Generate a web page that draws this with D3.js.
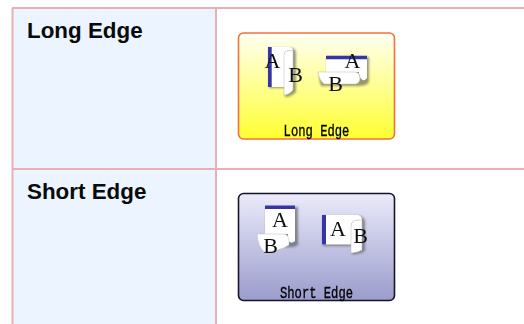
<!DOCTYPE html>
<html><head><meta charset="utf-8">
<script src="https://cdn.jsdelivr.net/npm/d3@7/dist/d3.min.js"></script>
<style>html,body{margin:0;padding:0;background:#fff}svg{display:block}</style></head>
<body><div id="c"></div>
<script>
const rowLabels = ["Long Edge", "Short Edge"];
const buttonLabels = ["Long Edge", "Short Edge"];
const gradientTops = ["#fffff4", "#ebebfa"];
const gradientBottoms = ["#ffff30", "#9a9ccc"];
const buttonBorders = ["#f2703c", "#15152a"];

const W = 524, H = 324;
const svg = d3.select("#c").append("svg").attr("width", W).attr("height", H);
const defs = svg.append("defs");
const blur = defs.append("filter").attr("id", "soft");
blur.append("feGaussianBlur").attr("stdDeviation", 0.4);
const shadow = defs.append("filter").attr("id", "sh");
shadow.append("feGaussianBlur").attr("stdDeviation", 0.8);
rowLabels.forEach((_, i) => {
  const g = defs.append("linearGradient").attr("id", "g" + i).attr("x1", 0).attr("x2", 0).attr("y1", 0).attr("y2", 1);
  g.append("stop").attr("offset", "0%").attr("stop-color", gradientTops[i]);
  g.append("stop").attr("offset", "100%").attr("stop-color", gradientBottoms[i]);
});

const rowY = d3.scaleOrdinal().domain(rowLabels).range([8, 169]);
const lineColor = "#e8b0b0";
svg.append("rect").attr("x", 12).attr("y", 8).attr("width", 204).attr("height", H - 8).attr("fill", "#ebf4ff");
[[12.5, 8, 12.5, H], [216, 8, 216, H], [12, 8, W, 8], [12, 169, W, 169]].forEach(d => {
  svg.append("line").attr("x1", d[0]).attr("y1", d[1]).attr("x2", d[2]).attr("y2", d[3])
    .attr("stroke", lineColor).attr("stroke-width", 2);
});
svg.selectAll("text.row").data(rowLabels).join("text").attr("class", "row")
  .attr("x", 27).attr("y", d => rowY(d) + 30)
  .attr("font-family", "'Liberation Sans',Arial,sans-serif").attr("font-weight", "bold")
  .attr("font-size", 22.4).attr("fill", "#0a0a0a").text(d => d);

const btnY = [33, 193.5], btnH = [106, 107];
rowLabels.forEach((_, i) => {
  const g = svg.append("g").attr("filter", "url(#soft)");
  g.append("rect").attr("x", 238.5).attr("y", btnY[i]).attr("width", 156).attr("height", btnH[i]).attr("rx", 5)
    .attr("fill", `url(#g${i})`).attr("stroke", buttonBorders[i]).attr("stroke-width", 1.6);
  g.append("text").attr("transform", `translate(316.5,${btnY[i] + btnH[i] - 3}) scale(1,1.3)`).attr("text-anchor", "middle")
    .attr("font-family", "'Liberation Mono','DejaVu Sans Mono',monospace").attr("font-size", 12.2)
    .attr("fill", "#000").attr("stroke", "#000").attr("stroke-width", 0.25).text(buttonLabels[i]);
});

const pages = [
  {s:"M269 48H290Q296 48 296 53V92Q291 97 285 97V88H269Z", p:"M268 47H288Q293 47 293 51Q284 49 284 55V87H268Z", f:"M284 55Q284 49 293 51V90Q289 95 284 95Z", b:"M268 47h3.7v40h-3.7Z", A:[272.5,67.5], B:[295.5,81.5]},
  {s:"M327 57H369V82Q367 86 358 86H321Q319 80 319 73H327Z", p:"M326 56H367V78Q362 84 359 74V72H326Z", f:"M318 72H355Q359 72 360 78Q360 83 356 84H324Q319 80 318 72Z", b:"M326 55.7h41v3.5h-41Z", A:[352.5,68], B:[335.5,91]},
  {s:"M266 207H298V245Q293 248 289 247H266Z", p:"M265 206H295V241Q291 245 288 240V234H265Z", f:"M257 234H284Q288 234 289 240V245Q280 251 264 252Q258 246 257 234Z", b:"M265 205.5h30v3.5h-30Z", A:[280,227], B:[270.5,252.5]},
  {s:"M323 216H359Q365 217 365 222V251Q359 255 352 254V246H323Z", p:"M322 215H358Q362 216 362 220Q351 219 351 226V244.5H322Z", f:"M351 226Q351 219 362 220V250Q357 253 351 253Z", b:"M322 215h4v29.5h-4Z", A:[338,235.5], B:[360.5,242.5]}
];
const icons = svg.append("g").attr("filter", "url(#soft)");
const serif = "'Liberation Serif','DejaVu Serif',serif";
pages.forEach(d => {
  icons.append("path").attr("d", d.s).attr("fill", "#444").attr("opacity", 0.55).attr("filter", "url(#sh)");
  icons.append("path").attr("d", d.p).attr("fill", "#fff");
  icons.append("path").attr("d", d.b).attr("fill", "#3434a8");
  icons.append("text").attr("x", d.A[0]).attr("y", d.A[1]).attr("text-anchor", "middle")
    .attr("font-family", serif).attr("font-size", 22).attr("fill", "#111").text("A");
  icons.append("path").attr("d", d.f).attr("fill", "#fff").attr("stroke", "#bbb").attr("stroke-width", 0.5);
  icons.append("text").attr("x", d.B[0]).attr("y", d.B[1]).attr("text-anchor", "middle")
    .attr("font-family", serif).attr("font-size", 22).attr("fill", "#111").text("B");
});
</script></body></html>
